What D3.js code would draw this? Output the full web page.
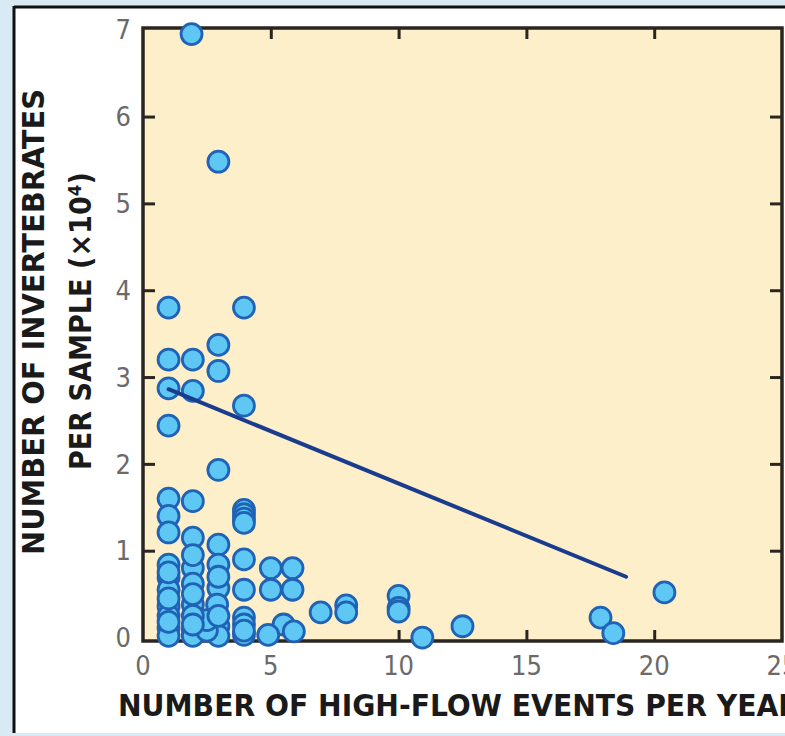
<!DOCTYPE html>
<html>
<head>
<meta charset="utf-8">
<script src="https://cdn.jsdelivr.net/npm/d3@7"></script>
<style>
  html, body { margin: 0; padding: 0; background: #d9eaf4; }
  svg { display: block; }
</style>
</head>
<body>
<svg id="chart" width="785" height="736"></svg>
<script>
// ---- data ----
const flowEvents = [1.9, 2.95, 1.0, 3.95, 2.95, 1.0, 1.95, 2.95, 1.0, 1.95, 3.95, 1.0, 2.95,
  3.95, 3.95, 3.95, 3.95, 1.0, 1.95, 1.0, 1.0, 1.95, 2.95, 3.95, 1.0, 1.95, 2.95, 5.0, 5.85,
  1.0, 1.95, 2.95, 3.95, 5.0, 5.85, 1.0, 1.0, 1.95, 2.9, 1.0, 3.95, 3.95, 5.5, 5.9, 4.9, 3.95,
  1.0, 1.95, 2.95, 2.95, 1.95, 1.0, 2.5, 2.5, 1.95, 2.95, 1.95, 2.95,
  1.0, 1.0, 1.0, 1.95, 1.95, 3.95,
  6.95, 7.95, 7.95, 10.0, 10.0, 10.0, 10.93, 12.5, 17.9, 18.4, 20.4];
const invertebrates = [6.95, 5.48, 3.80, 3.80, 3.37, 3.20, 3.20, 3.07, 2.87, 2.84, 2.67, 2.44, 1.93,
  1.47, 1.42, 1.37, 1.32, 1.60, 1.57, 1.40, 1.21, 1.15, 1.07, 0.90, 0.84, 0.80, 0.84, 0.80, 0.80,
  0.69, 0.62, 0.57, 0.55, 0.55, 0.55, 0.55, 0.36, 0.38, 0.38, 0.25, 0.23, 0.15, 0.15, 0.07, 0.03, 0.03,
  0.11, 0.09, 0.13, 0.02, 0.02, 0.02, 0.08, 0.20, 0.25, 0.25, 0.95, 0.70,
  0.75, 0.45, 0.18, 0.50, 0.15, 0.08,
  0.29, 0.37, 0.29, 0.48, 0.34, 0.30, 0.00, 0.13, 0.23, 0.05, 0.52];
const trendX = [1.0, 18.9];
const trendY = [2.86, 0.70];
const xTicks = [0, 5, 10, 15, 20, 25];
const yTicks = [0, 1, 2, 3, 4, 5, 6, 7];
const xTitle = "NUMBER OF HIGH-FLOW EVENTS PER YEAR";
const yTitle1 = "NUMBER OF INVERTEBRATES";
const yTitle2 = "PER SAMPLE (×10⁴)";

// ---- layout ----
const svg = d3.select("#chart");
const W = 785, H = 736;
const mLeft = 143, mRight = 782, mTop = 28, mBottom = 641;
const x = d3.scaleLinear().domain([0, 25]).range([mLeft, mRight]);
const y = d3.scaleLinear().domain([-0.04, 7.02]).range([mBottom, mTop]);

const condensed = "'Liberation Sans Narrow', 'DejaVu Sans Condensed', 'Arial Narrow', sans-serif";

// white panel with black top/left border
svg.append("rect").attr("x", 15).attr("y", 7).attr("width", W).attr("height", 726).attr("fill", "#ffffff");
svg.append("line").attr("x1", 14).attr("x2", W).attr("y1", 7).attr("y2", 7).attr("stroke", "#111").attr("stroke-width", 3);
svg.append("line").attr("x1", 14).attr("x2", 14).attr("y1", 6).attr("y2", 733).attr("stroke", "#111").attr("stroke-width", 3);

// plot background
svg.append("rect").attr("x", mLeft).attr("y", mTop).attr("width", mRight - mLeft).attr("height", mBottom - mTop)
  .attr("fill", "#fdefc9");

// ticks using axis generators (inward)
const frameColor = "#2b2521";
function styleAxis(g) {
  g.select(".domain").remove();
  g.selectAll(".tick line").attr("stroke", frameColor).attr("stroke-width", 3);
  g.selectAll(".tick text").remove();
}
const innerX = xTicks.filter(d => d > 0 && d < 25);
const innerY = yTicks.filter(d => d > 0 && d < 7);
svg.append("g").attr("transform", `translate(0,${mBottom})`)
  .call(d3.axisTop(x).tickValues(innerX).tickSize(11)).call(styleAxis);
svg.append("g").attr("transform", `translate(0,${mTop})`)
  .call(d3.axisBottom(x).tickValues(innerX).tickSize(11)).call(styleAxis);
svg.append("g").attr("transform", `translate(${mLeft},0)`)
  .call(d3.axisRight(y).tickValues(innerY).tickSize(12)).call(styleAxis);
svg.append("g").attr("transform", `translate(${mRight},0)`)
  .call(d3.axisLeft(y).tickValues(innerY).tickSize(12)).call(styleAxis);

// frame
svg.append("rect").attr("x", mLeft).attr("y", mTop).attr("width", mRight - mLeft).attr("height", mBottom - mTop)
  .attr("fill", "none").attr("stroke", frameColor).attr("stroke-width", 3.5);

// tick labels
svg.append("g").selectAll("text").data(yTicks).join("text")
  .attr("x", 131).attr("y", d => y(d)).attr("dy", "0.36em")
  .attr("text-anchor", "end")
  .attr("font-family", condensed).attr("font-size", 27).attr("fill", "#6a6a6a")
  .text(d => d);
svg.append("g").selectAll("text").data(xTicks).join("text")
  .attr("x", d => x(d)).attr("y", 675)
  .attr("text-anchor", "middle")
  .attr("font-family", condensed).attr("font-size", 27).attr("fill", "#6a6a6a")
  .text(d => d);

// points
const pts = flowEvents.map((v, i) => ({ fx: v, iv: invertebrates[i] }));
svg.append("g").selectAll("circle").data(pts).join("circle")
  .attr("cx", d => x(d.fx)).attr("cy", d => y(d.iv)).attr("r", 10.5)
  .attr("fill", "#5ec7f3").attr("stroke", "#1f62b6").attr("stroke-width", 2.8);

// trend line
const line = d3.line().x(d => x(d[0])).y(d => y(d[1]));
svg.append("path").datum(trendX.map((v, i) => [v, trendY[i]]))
  .attr("d", line).attr("fill", "none").attr("stroke", "#1a3c8e").attr("stroke-width", 4)
  .attr("stroke-linecap", "round");

// titles
svg.append("text").attr("x", 118).attr("y", 716)
  .attr("font-family", condensed).attr("font-weight", "bold").attr("font-size", 31).attr("fill", "#1a1a1a")
  .attr("textLength", 682).attr("lengthAdjust", "spacingAndGlyphs")
  .text(xTitle);
svg.append("text").attr("transform", "translate(44,322) rotate(-90)")
  .attr("text-anchor", "middle")
  .attr("font-family", condensed).attr("font-weight", "bold").attr("font-size", 31).attr("fill", "#1a1a1a")
  .attr("textLength", 466).attr("lengthAdjust", "spacingAndGlyphs")
  .text(yTitle1);
svg.append("text").attr("transform", "translate(91,321) rotate(-90)")
  .attr("text-anchor", "middle")
  .attr("font-family", condensed).attr("font-weight", "bold").attr("font-size", 31).attr("fill", "#1a1a1a")
  .attr("textLength", 298).attr("lengthAdjust", "spacingAndGlyphs")
  .text(yTitle2);
</script>
</body>
</html>
